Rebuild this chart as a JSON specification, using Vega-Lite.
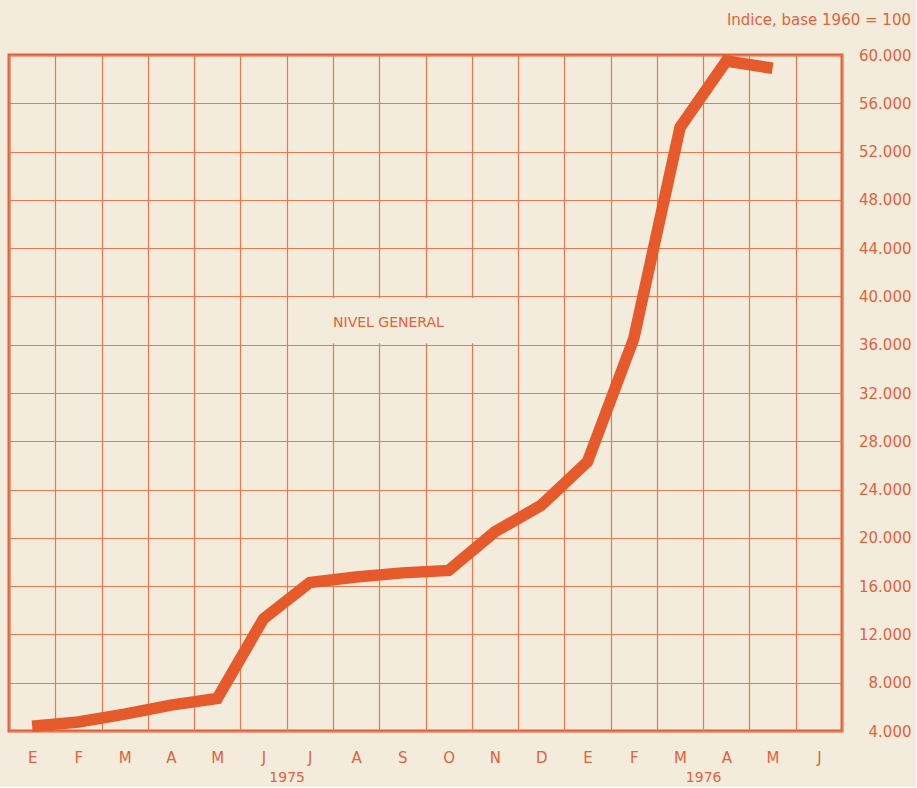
{
  "$schema": "https://vega.github.io/schema/vega-lite/v6.json",
  "width": 833,
  "height": 676,
  "padding": {"left": 9, "top": 13, "right": 5, "bottom": 3},
  "background": "#f3ebdc",
  "title": {
    "text": "Indice, base 1960 = 100",
    "anchor": "end",
    "font": "DejaVu Sans",
    "fontSize": 15,
    "fontWeight": "normal",
    "color": "#e0643a",
    "offset": 10
  },
  "config": {
    "view": {"stroke": "#e2603a", "strokeWidth": 3},
    "axis": {
      "labelFont": "DejaVu Sans",
      "labelColor": "#e0643a",
      "gridColor": "#e8784e",
      "gridWidth": 1.2,
      "labelOverlap": false,
      "labelFlush": false,
      "ticks": false,
      "domain": false,
      "title": null
    }
  },
  "resolve": {"axis": {"x": "independent"}},
  "data": {
    "values": [
      {"mes": 1, "indice": 4400},
      {"mes": 2, "indice": 4750},
      {"mes": 3, "indice": 5400},
      {"mes": 4, "indice": 6150},
      {"mes": 5, "indice": 6700},
      {"mes": 6, "indice": 13300},
      {"mes": 7, "indice": 16300},
      {"mes": 8, "indice": 16750},
      {"mes": 9, "indice": 17100},
      {"mes": 10, "indice": 17300},
      {"mes": 11, "indice": 20500},
      {"mes": 12, "indice": 22700},
      {"mes": 13, "indice": 26300},
      {"mes": 14, "indice": 36500},
      {"mes": 15, "indice": 54000},
      {"mes": 16, "indice": 59500},
      {"mes": 17, "indice": 58900}
    ]
  },
  "layer": [
    {
      "mark": {"type": "line", "strokeOpacity": 0},
      "encoding": {
        "x": {
          "field": "mes",
          "type": "quantitative",
          "scale": {"domain": [0.5, 18.5], "nice": false, "zero": false},
          "axis": {
            "orient": "top",
            "values": [0.5, 1.5, 2.5, 3.5, 4.5, 5.5, 6.5, 7.5, 8.5, 9.5, 10.5, 11.5, 12.5, 13.5, 14.5, 15.5, 16.5, 17.5, 18.5],
            "grid": true,
            "labels": false
          }
        },
        "y": {
          "field": "indice",
          "type": "quantitative",
          "scale": {"domain": [4000, 60000], "nice": false, "zero": false},
          "axis": {
            "orient": "right",
            "values": [4000, 8000, 12000, 16000, 20000, 24000, 28000, 32000, 36000, 40000, 44000, 48000, 52000, 56000, 60000],
            "grid": true,
            "labelAlign": "right",
            "labelPadding": 69,
            "labelDy": -3,
            "labelFontSize": 15,
            "labelExpr": "replace(format(datum.value, ',d'), ',', '.')"
          }
        }
      }
    },
    {
      "mark": {"type": "line", "strokeOpacity": 0},
      "encoding": {
        "x": {
          "field": "mes",
          "type": "quantitative",
          "axis": {
            "orient": "bottom",
            "values": [6.5, 15.5],
            "grid": false,
            "labelPadding": 39,
            "labelFontSize": 14,
            "labelExpr": "datum.value < 10 ? '1975' : '1976'"
          }
        },
        "y": {"field": "indice", "type": "quantitative"}
      }
    },
    {
      "data": {"values": [{"etiqueta": "NIVEL GENERAL"}]},
      "mark": {"type": "rect", "color": "#f3ebdc"},
      "encoding": {
        "x": {"datum": 6.54, "axis": null},
        "x2": {"datum": 11.46},
        "y": {"datum": 36130},
        "y2": {"datum": 39870}
      }
    },
    {
      "mark": {"type": "line", "color": "#e5592a", "strokeWidth": 11.5, "strokeCap": "butt", "strokeJoin": "miter"},
      "encoding": {
        "x": {
          "field": "mes",
          "type": "quantitative",
          "axis": {
            "orient": "bottom",
            "values": [1, 2, 3, 4, 5, 6, 7, 8, 9, 10, 11, 12, 13, 14, 15, 16, 17, 18],
            "grid": false,
            "labelPadding": 19,
            "labelFontSize": 15,
            "labelExpr": "substring('EFMAMJJASONDEFMAMJ', datum.value - 1, datum.value)"
          }
        },
        "y": {"field": "indice", "type": "quantitative"}
      }
    },
    {
      "data": {"values": [{"etiqueta": "NIVEL GENERAL"}]},
      "mark": {"type": "text", "font": "DejaVu Sans", "fontSize": 14, "color": "#e0643a", "align": "center", "baseline": "middle"},
      "encoding": {
        "x": {"datum": 8.7, "axis": null},
        "y": {"datum": 37800},
        "text": {"field": "etiqueta"}
      }
    }
  ]
}
